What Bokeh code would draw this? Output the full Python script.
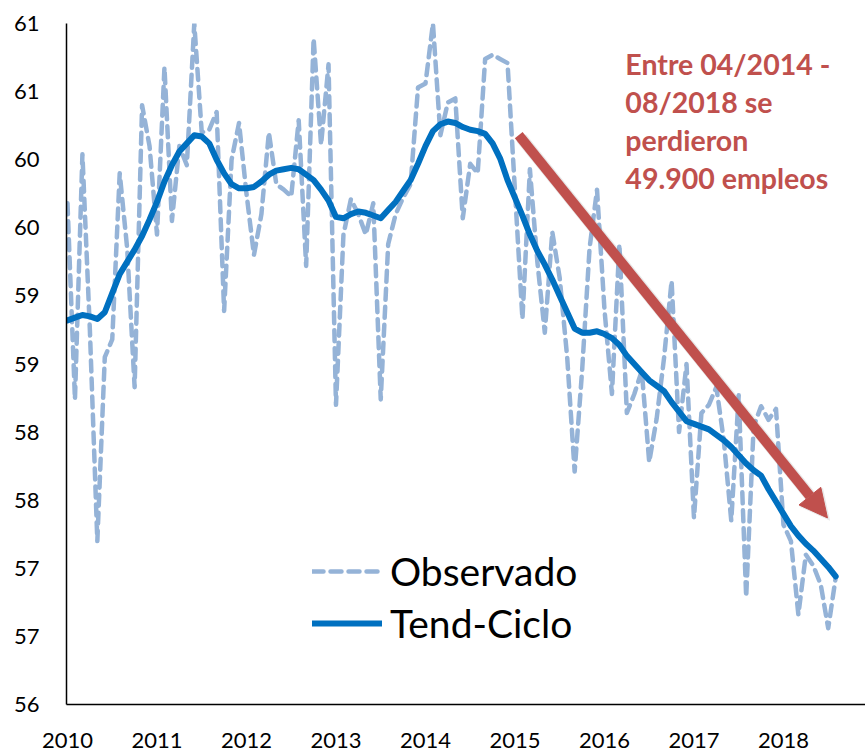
import numpy as np
from bokeh.plotting import figure
from bokeh.models import (Range1d, FixedTicker, CustomJSTickFormatter, Legend, LegendItem,
                          Arrow, NormalHead, Label)
from bokeh.embed import file_html
from bokeh.resources import INLINE

# ---------------- data (monthly, Jan 2010 .. Aug 2018) ----------------
YEARS = ["2010", "2011", "2012", "2013", "2014", "2015", "2016", "2017", "2018"]

OBSERVADO = [
    59.68, 58.24, 60.04, 58.75, 57.20, 58.55, 58.68, 59.90, 59.35, 58.33, 60.40, 60.10,   # 2010
    59.45, 60.68, 59.55, 60.10, 59.96, 61.00, 60.20, 60.22, 60.35, 58.89, 60.00, 60.27,   # 2011
    59.75, 59.30, 59.60, 60.20, 59.82, 59.78, 59.73, 60.29, 59.22, 60.89, 60.11, 60.70,   # 2012
    58.20, 59.45, 59.71, 59.60, 59.45, 59.68, 58.24, 59.38, 59.60, 59.72, 59.82, 60.53,   # 2013
    60.56, 61.00, 60.18, 60.42, 60.45, 59.57, 59.97, 59.90, 60.74, 60.77, 60.74, 60.71,   # 2014
    59.77, 58.83, 59.93, 59.25, 58.73, 59.47, 59.13, 58.55, 57.71, 58.45, 59.35, 59.78,   # 2015
    58.90, 58.28, 59.38, 58.14, 58.28, 58.45, 57.78, 58.10, 58.55, 59.11, 58.00, 58.50,   # 2016
    57.37, 58.14, 58.20, 58.33, 57.94, 57.35, 58.27, 56.79, 58.04, 58.19, 58.09, 58.17,   # 2017
    57.32, 57.20, 56.66, 57.10, 57.02, 56.88, 56.56, 56.93,                               # 2018
]

TEND_CICLO = [
    58.82, 58.84, 58.86, 58.85, 58.83, 58.88, 59.02, 59.16, 59.25, 59.34, 59.44, 59.56,   # 2010
    59.69, 59.84, 59.96, 60.06, 60.12, 60.18, 60.17, 60.12, 60.00, 59.90, 59.82, 59.79,   # 2011
    59.79, 59.80, 59.84, 59.89, 59.92, 59.93, 59.94, 59.93, 59.89, 59.85, 59.78, 59.70,   # 2012
    59.58, 59.57, 59.60, 59.62, 59.61, 59.59, 59.57, 59.63, 59.69, 59.77, 59.85, 59.97,   # 2013
    60.10, 60.21, 60.26, 60.28, 60.27, 60.24, 60.22, 60.21, 60.19, 60.12, 60.01, 59.85,   # 2014
    59.72, 59.59, 59.45, 59.33, 59.23, 59.12, 59.00, 58.88, 58.76, 58.73, 58.73, 58.74,   # 2015
    58.72, 58.69, 58.64, 58.56, 58.50, 58.44, 58.38, 58.34, 58.30, 58.22, 58.15, 58.08,   # 2016
    58.06, 58.04, 58.02, 57.98, 57.94, 57.89, 57.83, 57.77, 57.72, 57.68, 57.58, 57.49,   # 2017
    57.40, 57.31, 57.24, 57.18, 57.13, 57.07, 57.01, 56.94,                               # 2018
]

Y_TICKS = [56.0, 56.5, 57.0, 57.5, 58.0, 58.5, 59.0, 59.5, 60.0, 60.5, 61.0]

ANNOT_LINES = ["Entre 04/2014 -", "08/2018 se", "perdieron", "49.900 empleos"]
ARROW_START = (60.5, 60.18)   # (month index, value)
ARROW_END = (101.9, 57.37)

# ---------------- styles ----------------
RED = "#C0504D"
OBS_COLOR = "#95B3D7"
TC_COLOR = "#0070C0"
FONT = "Lato"

W, H = 865, 751
x = np.arange(len(OBSERVADO))

p = figure(width=W, height=H, output_backend="svg", toolbar_location=None,
           x_range=Range1d(-0.134, 107.0), y_range=Range1d(56, 61),
           min_border_left=66, min_border_right=0, min_border_top=23, min_border_bottom=47)
p.outline_line_color = None
p.xgrid.visible = False
p.ygrid.visible = False
p.background_fill_color = "white"
p.border_fill_color = "white"

r_obs = p.line(x, OBSERVADO, line_color=OBS_COLOR, line_width=4.5, line_dash="11 7",
               line_cap="round", line_join="round")
r_tc = p.line(x, TEND_CICLO, line_color=TC_COLOR, line_width=6, line_join="round", line_cap="round")

# axes
for ax in (p.xaxis[0], p.yaxis[0]):
    ax.axis_line_color = "black"
    ax.axis_line_width = 1.5
    ax.major_tick_line_color = None
    ax.minor_tick_line_color = None
    ax.major_tick_out = 0
    ax.major_tick_in = 0
    ax.major_label_text_font = FONT
    ax.major_label_text_font_size = "22px"
    ax.major_label_text_color = "black"

p.yaxis.ticker = FixedTicker(ticks=Y_TICKS)
p.yaxis.formatter = CustomJSTickFormatter(code="return Math.round(tick).toString();")
p.yaxis.major_label_standoff = 27

year_ticks = [12 * i for i in range(len(YEARS))]
p.xaxis.ticker = FixedTicker(ticks=year_ticks)
p.xaxis.major_label_overrides = {t: y for t, y in zip(year_ticks, YEARS)}
p.xaxis.major_label_standoff = 28
p.xaxis.major_label_text_line_height = 0.7

# arrow (shadow + arrow)
dx_sh, dy_sh = 0.35, -0.02
p.add_layout(Arrow(x_start=ARROW_START[0] + dx_sh, y_start=ARROW_START[1] + dy_sh,
                   x_end=ARROW_END[0] + dx_sh, y_end=ARROW_END[1] + dy_sh,
                   line_color="#808080", line_alpha=0.18, line_width=12,
                   end=NormalHead(size=30, fill_color="#808080", fill_alpha=0.18, line_color=None)))
p.add_layout(Arrow(x_start=ARROW_START[0], y_start=ARROW_START[1],
                   x_end=ARROW_END[0], y_end=ARROW_END[1],
                   line_color=RED, line_width=10,
                   end=NormalHead(size=28, fill_color=RED, line_color=RED, line_width=1)))

# annotation text
ANNOT_X = 74.8
ANNOT_Y0 = 60.70
LINE_STEP = 0.2775
for i, t in enumerate(ANNOT_LINES):
    p.add_layout(Label(x=ANNOT_X, y=ANNOT_Y0 - i * LINE_STEP, text=t, text_font=FONT,
                       text_font_style="bold", text_font_size="28.5px", text_color=RED,
                       text_baseline="alphabetic", text_align="left"))

# legend
legend = Legend(items=[LegendItem(label="Observado", renderers=[r_obs]),
                       LegendItem(label="Tend-Ciclo", renderers=[r_tc])],
                location=(246, 58), orientation="vertical",
                label_text_font=FONT, label_text_font_size="39px", label_text_color="black",
                glyph_width=70, glyph_height=46, label_height=46, label_standoff=8,
                spacing=6, padding=0, margin=0,
                border_line_color=None, background_fill_alpha=0)
p.add_layout(legend)

open("out.html", "w").write(file_html(p, INLINE))
